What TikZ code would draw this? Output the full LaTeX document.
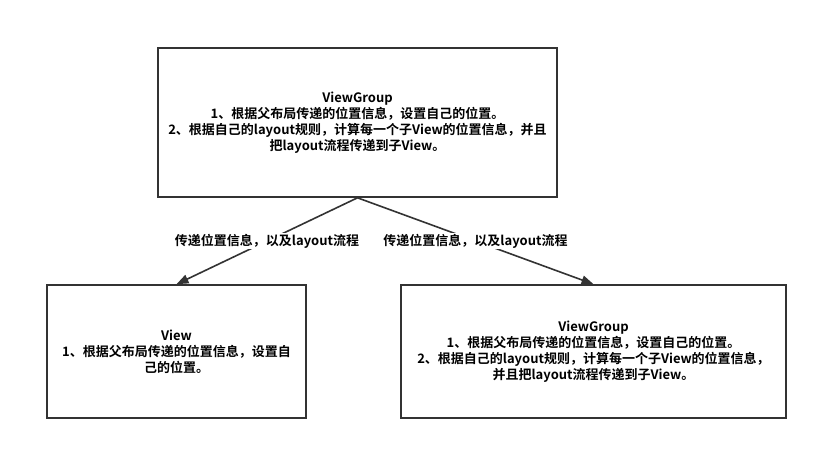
\documentclass[tikz,border=0pt]{standalone}
\usepackage{fontspec}
\setmainfont{Noto Sans CJK SC}[BoldFont={* Bold}]
\usetikzlibrary{arrows.meta}
\definecolor{edge}{HTML}{333333}
\tikzset{
  box/.style={draw=edge, line width=1.6pt, fill=white, align=center, inner sep=0pt,
    font=\fontsize{13}{16}\selectfont\bfseries},
  conn/.style={draw=edge, line width=1.6pt, -{Triangle[length=12pt,width=9pt]}},
  lbl/.style={fill=white, inner sep=1pt, font=\fontsize{13}{16}\selectfont\bfseries}
}
\begin{document}
\begin{tikzpicture}[x=1pt,y=-1pt]
\useasboundingbox[fill=white] (0,0) rectangle (818,451);
\node[box, minimum width=399pt, minimum height=149pt] (top) at (357.5,122.5)
  {ViewGroup\\1、根据父布局传递的位置信息，设置自己的位置。\\2、根据自己的layout规则，计算每一个子View的位置信息，并且\\把layout流程传递到子View。};
\node[box, minimum width=259pt, minimum height=133pt] (left) at (176.5,351.5)
  {View\\1、根据父布局传递的位置信息，设置自\\己的位置。};
\node[box, minimum width=385pt, minimum height=133pt] (right) at (593.5,351.5)
  {ViewGroup\\1、根据父布局传递的位置信息，设置自己的位置。\\2、根据自己的layout规则，计算每一个子View的位置信息，\\并且把layout流程传递到子View。};
\draw[conn] (top.south) -- node[lbl] (l1) {传递位置信息，以及layout流程} (left.north);
\draw[conn] (top.south) -- node[lbl] (l2) {传递位置信息，以及layout流程} (right.north);
\end{tikzpicture}
\end{document}
